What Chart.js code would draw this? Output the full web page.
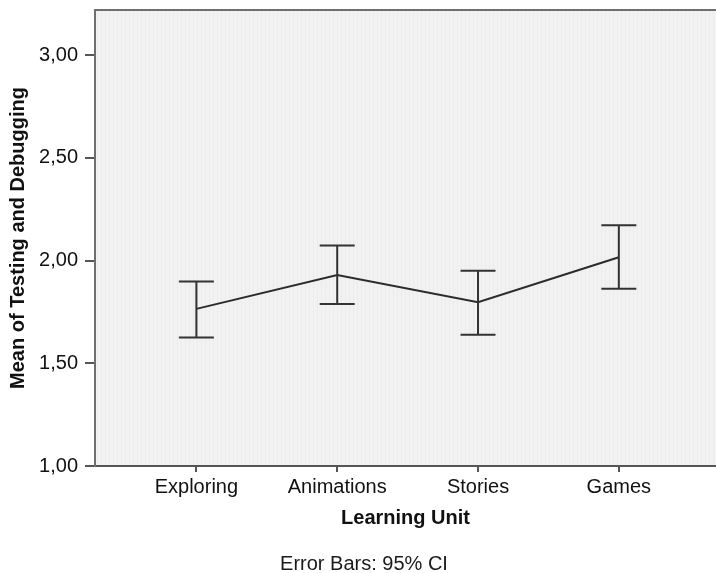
<!DOCTYPE html>
<html>
<head>
<meta charset="utf-8">
<script src="https://cdn.jsdelivr.net/npm/chart.js@4/dist/chart.umd.min.js"></script>
<style>
  html, body { margin: 0; padding: 0; background: #fff; }
  #wrap { width: 716px; height: 573px; }
</style>
</head>
<body>
<div id="wrap"><canvas id="c" width="716" height="573"></canvas></div>
<script>
// Learning units and mean scores with 95% confidence interval bounds
const units = ['Exploring', 'Animations', 'Stories', 'Games'];
const means = [1.765, 1.930, 1.797, 2.016];
const ciLower = [1.626, 1.789, 1.639, 1.863];
const ciUpper = [1.898, 2.073, 1.951, 2.172];
const yTicks = [1.0, 1.5, 2.0, 2.5, 3.0];

const FONT = '"Liberation Sans", Arial, Helvetica, sans-serif';

// Light textured plot background plus the frame line along the top
const plotBackground = {
  id: 'plotBackground',
  beforeDraw(chart) {
    const { ctx, chartArea: a } = chart;
    ctx.save();
    ctx.fillStyle = '#f2f2f2';
    ctx.fillRect(a.left, a.top, a.right - a.left, a.bottom - a.top);
    ctx.fillStyle = 'rgba(0,0,0,0.022)';
    for (let x = a.left + 2; x < a.right; x += 4) {
      ctx.fillRect(x, a.top, 1, a.bottom - a.top);
    }
    ctx.strokeStyle = '#6e6e6e';
    ctx.lineWidth = 2;
    ctx.beginPath();
    ctx.moveTo(a.left - 1, a.top);
    ctx.lineTo(a.right, a.top);
    ctx.stroke();
    ctx.restore();
  }
};

// Vertical CI whiskers with horizontal caps
const errorBars = {
  id: 'errorBars',
  afterDatasetsDraw(chart) {
    const { ctx, scales: { x, y } } = chart;
    const cap = 17.5;
    ctx.save();
    ctx.strokeStyle = '#333333';
    ctx.lineWidth = 2;
    units.forEach((u, i) => {
      const px = x.getPixelForValue(i + 1);
      const top = y.getPixelForValue(ciUpper[i]);
      const bot = y.getPixelForValue(ciLower[i]);
      ctx.beginPath();
      ctx.moveTo(px, top); ctx.lineTo(px, bot);
      ctx.moveTo(px - cap, top); ctx.lineTo(px + cap, top);
      ctx.moveTo(px - cap, bot); ctx.lineTo(px + cap, bot);
      ctx.stroke();
    });
    ctx.restore();
  }
};

// Footnote under the axis title
const footnote = {
  id: 'footnote',
  afterDraw(chart) {
    const { ctx } = chart;
    ctx.save();
    ctx.font = '20px ' + FONT;
    ctx.fillStyle = '#1a1a1a';
    ctx.textAlign = 'center';
    ctx.textBaseline = 'middle';
    ctx.fillText('Error Bars: 95% CI', 364, 564);
    ctx.restore();
  }
};

new Chart(document.getElementById('c'), {
  type: 'line',
  data: {
    datasets: [{
      data: means.map((m, i) => ({ x: i + 1, y: m })),
      borderColor: '#2b2b2b',
      borderWidth: 2,
      pointRadius: 0,
      tension: 0
    }]
  },
  options: {
    responsive: false,
    animation: false,
    layout: { padding: { top: 0, left: 0, right: 0, bottom: 0 } },
    plugins: { legend: { display: false }, tooltip: { enabled: false } },
    scales: {
      x: {
        type: 'linear',
        min: 0.28,
        max: 4.69,
        afterBuildTicks(scale) { scale.ticks = units.map((u, i) => ({ value: i + 1 })); },
        afterFit(scale) { scale.height = 107; },
        ticks: {
          autoSkip: false,
          padding: 3,
          color: '#111',
          font: { family: FONT, size: 20 },
          callback: (v) => units[v - 1]
        },
        grid: {
          drawOnChartArea: false,
          drawTicks: true,
          tickLength: 6,
          color: '#555',
          lineWidth: 2
        },
        border: { display: true, color: '#555', width: 2 },
        title: {
          display: true,
          text: 'Learning Unit',
          color: '#111',
          font: { family: FONT, size: 20, weight: 'bold' },
          padding: { top: 0, bottom: 43 }
        }
      },
      y: {
        min: 1,
        max: 3.22,
        afterBuildTicks(scale) { scale.ticks = yTicks.map(v => ({ value: v })); },
        afterFit(scale) { scale.width = 95; scale.paddingTop = 10; },
        ticks: {
          padding: 7,
          color: '#111',
          font: { family: FONT, size: 20 },
          callback: (v) => v.toFixed(2).replace('.', ',')
        },
        grid: {
          drawOnChartArea: false,
          drawTicks: true,
          tickLength: 10,
          color: '#555',
          lineWidth: 2
        },
        border: { display: true, color: '#6e6e6e', width: 2 },
        title: {
          display: true,
          text: 'Mean of Testing and Debugging',
          color: '#111',
          font: { family: FONT, size: 20, weight: 'bold' },
          padding: { top: 6, bottom: 0 }
        }
      }
    }
  },
  plugins: [plotBackground, errorBars, footnote]
});
</script>
</body>
</html>
